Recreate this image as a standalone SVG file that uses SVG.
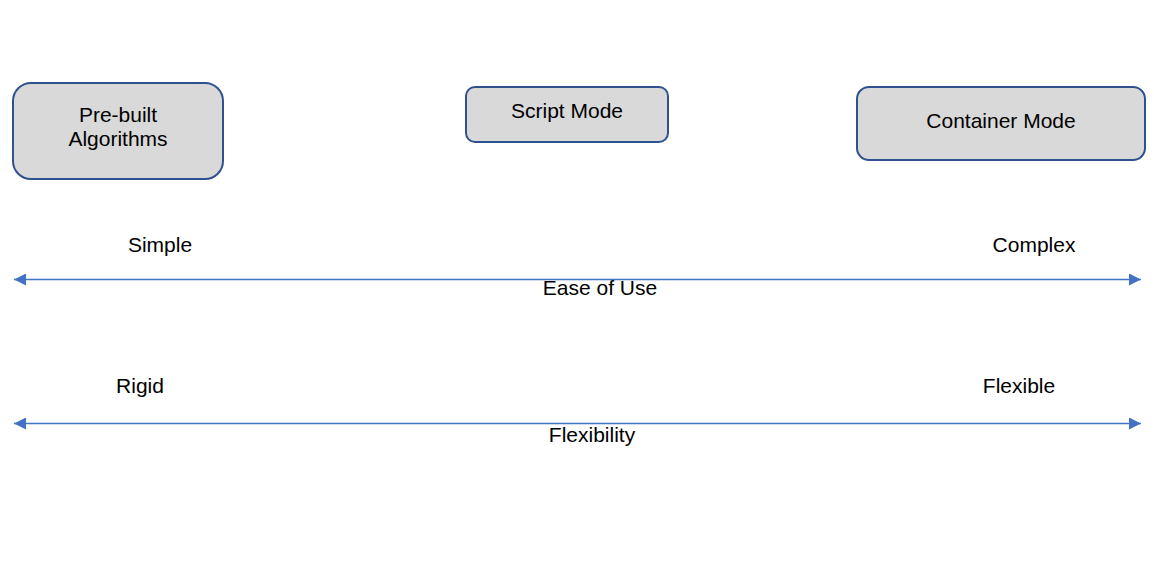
<svg xmlns="http://www.w3.org/2000/svg" width="1154" height="564" viewBox="0 0 1154 564">
<style>
.box{fill:#d9d9d9;stroke:#2f528f;stroke-width:2}
.t{font-family:"Liberation Sans",Arial,sans-serif;font-size:21px;fill:#000;text-anchor:middle}
.ln{stroke:#4472c4;stroke-width:1.3;fill:none}
</style>
<defs>
<marker id="ah" markerWidth="12" markerHeight="12" refX="12" refY="6" orient="auto-start-reverse" markerUnits="userSpaceOnUse">
<path d="M0,0 L12,6 L0,12 Z" fill="#4472c4"/>
</marker>
</defs>
<rect width="1154" height="564" fill="#fff"/>
<g id="prebuilt">
<rect class="box" x="13" y="83" width="210" height="96" rx="18"/>
<text class="t" x="118" y="122">Pre-built</text>
<text class="t" x="118" y="146">Algorithms</text>
</g>
<g id="script">
<rect class="box" x="466" y="87" width="202" height="55" rx="9"/>
<text class="t" x="567" y="118">Script Mode</text>
</g>
<g id="container">
<rect class="box" x="857" y="87" width="288" height="73" rx="12"/>
<text class="t" x="1001" y="128">Container Mode</text>
</g>
<g id="connectors">
<line class="ln" x1="14" y1="279.5" x2="1141" y2="279.5" marker-start="url(#ah)" marker-end="url(#ah)"/>
<line class="ln" x1="14" y1="423.5" x2="1141" y2="423.5" marker-start="url(#ah)" marker-end="url(#ah)"/>
</g>
<g id="labels">
<text class="t" x="160" y="252">Simple</text>
<text class="t" x="1034" y="252">Complex</text>
<text class="t" x="600" y="295">Ease of Use</text>
<text class="t" x="140" y="393">Rigid</text>
<text class="t" x="1019" y="393">Flexible</text>
<text class="t" x="592" y="442">Flexibility</text>
</g>
</svg>
